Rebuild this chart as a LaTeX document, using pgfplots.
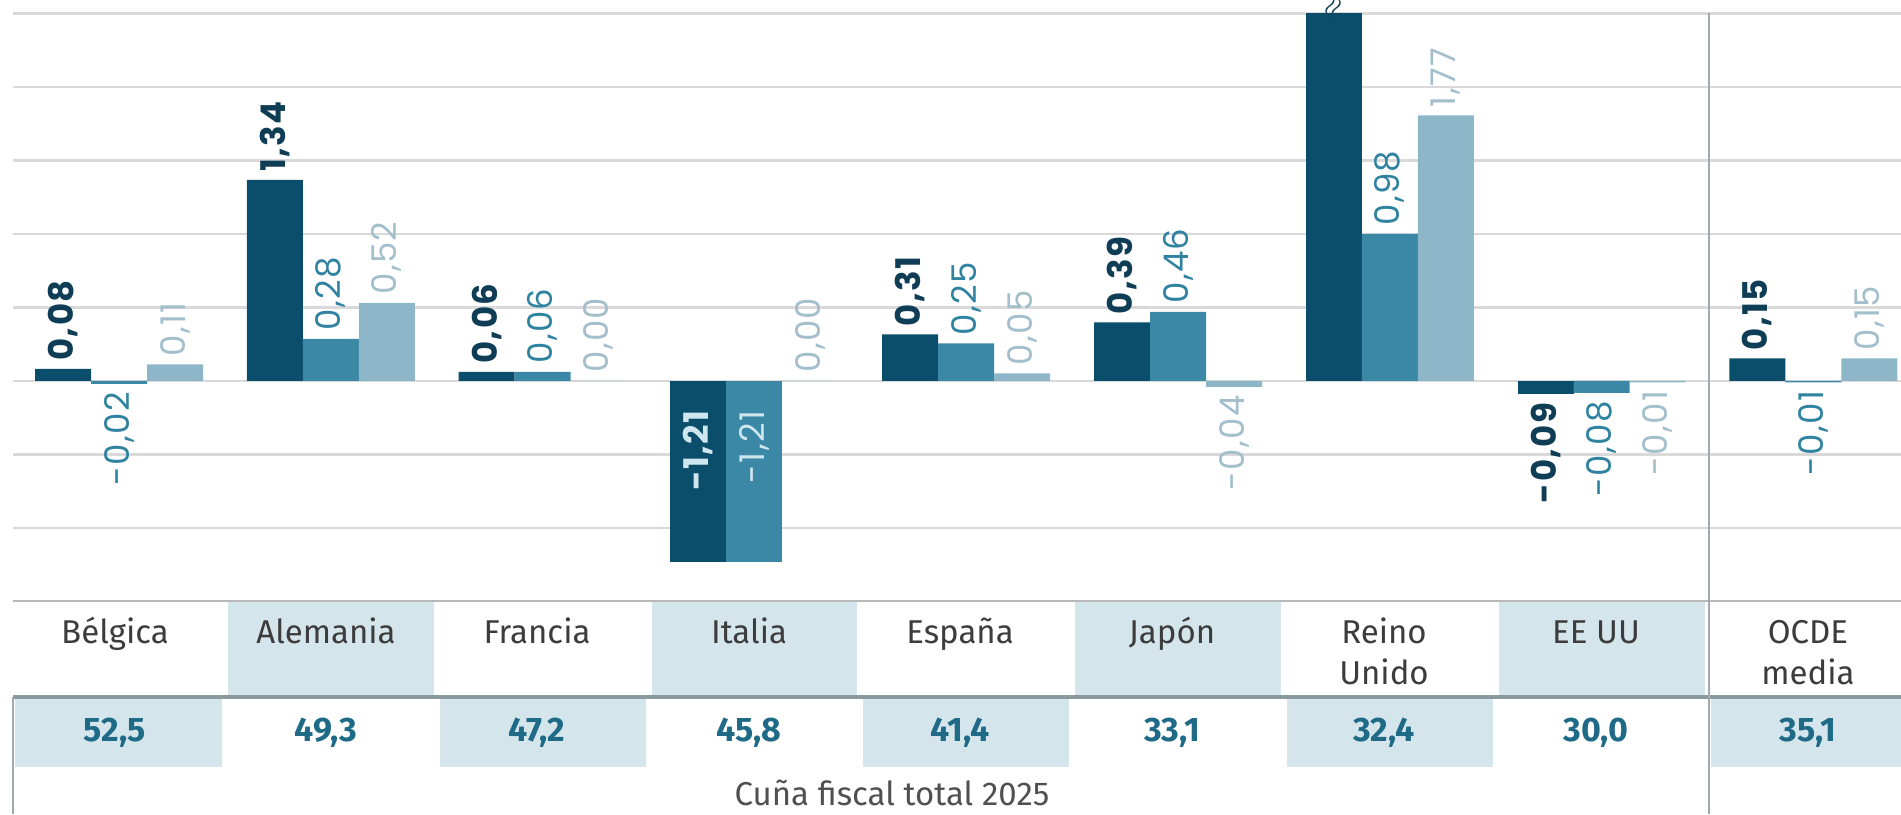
\documentclass[border=0pt]{standalone}
\usepackage{pgfplots}
\pgfplotsset{compat=1.18}
\usepackage{fontspec}
\setmainfont{Fira Sans}
\newfontfamily\labfont[LetterSpace=4]{Poppins}

\definecolor{barA}{HTML}{0B4E6C}
\definecolor{barB}{HTML}{3A88A6}
\definecolor{barC}{HTML}{8DB6C9}
\definecolor{labA}{HTML}{0E3D55}
\definecolor{labB}{HTML}{2F82A0}
\definecolor{labC}{HTML}{A3BFCC}
\definecolor{labIn}{HTML}{CFE6EF}
\definecolor{cellc}{HTML}{D5E5EC}
\definecolor{gridc}{HTML}{D9D9D9}
\definecolor{rulec}{HTML}{8A999F}
\definecolor{vlinec}{HTML}{A0AAAE}
\definecolor{numc}{HTML}{1E6A87}
\definecolor{txtc}{HTML}{3C3C3C}

\pgfplotsset{
  bw/.style={ybar, bar width=0.2644, bar shift=0, draw=none},
  lab/.style={nodes near coords, point meta=explicit symbolic,
    every node near coord/.append style={rotate=90, anchor=#1, inner sep=4pt}},
  sA/.style={every node near coord/.append style={font=\labfont\bfseries\fontsize{17}{17}\selectfont, color=labA}},
  sB/.style={every node near coord/.append style={font=\labfont\fontsize{17}{17}\selectfont, color=labB}},
  sC/.style={every node near coord/.append style={font=\labfont\fontsize{17}{17}\selectfont, color=labC}},
  sIn/.style={every node near coord/.append style={xshift=80pt, color=labIn}},
}

\begin{document}
\begin{tikzpicture}
\useasboundingbox (0,0) rectangle (950.5pt,407pt);
\clip (0,0) rectangle (950.5pt,407pt);

\begin{axis}[
  at={(6.5pt,106.25pt)}, anchor=south west,
  scale only axis, width=944pt, height=294pt,
  xmin=-0.5005, xmax=8.4136, ymin=-1.47, ymax=2.45,
  clip=false,
  axis line style={draw=none}, tick style={draw=none},
  xtick=\empty,
  ytick={-0.98,-0.49,0,0.49,0.98,1.47,1.96,2.45}, yticklabels={},
  ymajorgrids, grid style={line width=1.4pt, color=gridc},
]
% serie oscura (x = grupo - 0.2644)
\addplot[bw, fill=barA, lab=west, sA] coordinates
  {(-0.2644,0.08)[0,08] (0.7356,1.34)[1,34] (1.7356,0.06)[0,06] (3.7356,0.31)[0,31] (4.7356,0.39)[0,39] (7.7356,0.15)[0,15]};
\addplot[bw, fill=barA, lab=east, sA] coordinates
  {(6.7356,-0.09)[-0,09]};
\addplot[bw, fill=barA, lab=east, sA, sIn] coordinates
  {(2.7356,-1.21)[-1,21]};
% Reino Unido: barra cortada arriba
\addplot[bw, fill=barA] coordinates {(5.7356,2.45)};
% serie media (x = grupo)
\addplot[bw, fill=barB, lab=west, sB] coordinates
  {(1,0.28)[0,28] (2,0.06)[0,06] (4,0.25)[0,25] (5,0.46)[0,46] (6,0.98)[0,98]};
\addplot[bw, fill=barB, lab=east, sB] coordinates
  {(0,-0.02)[-0,02] (7,-0.08)[-0,08] (8,-0.01)[-0,01]};
\addplot[bw, fill=barB, lab=east, sB, sIn] coordinates
  {(3,-1.21)[-1,21]};
% serie clara (x = grupo + 0.2644)
\addplot[bw, fill=barC, lab=west, sC] coordinates
  {(0.2644,0.11)[0,11] (1.2644,0.52)[0,52] (2.2644,0)[0,00] (3.2644,0)[0,00] (4.2644,0.05)[0,05] (6.2644,1.77)[1,77] (8.2644,0.15)[0,15]};
\addplot[bw, fill=barC, lab=east, sC] coordinates
  {(5.2644,-0.04)[-0,04] (7.2644,-0.01)[-0,01]};
\node[rotate=70, text=labA, font=\bfseries\Large] at (axis cs:5.7356,2.49) {$\approx$};
\end{axis}

\begin{scope}[x=0.5pt,y=0.5pt]
% tabla
\foreach \l/\r in {227.9/433.7, 651.5/857.3, 1075.1/1280.9, 1498.7/1704.5}
  \fill[cellc] (\l,117) rectangle (\r,213);
\foreach \l/\r in {15/221.9, 439.7/645.5, 863.3/1069.1, 1286.9/1492.7, 1710.5/1901}
  \fill[cellc] (\l,47) rectangle (\r,117);
\draw[line width=1.4pt, color=gridc!85!black] (13,213) -- (1901,213);
\draw[line width=2pt, color=rulec] (13,117) -- (1901,117);
\draw[line width=1.2pt, color=vlinec] (13,0) -- (13,117);
\draw[line width=1.2pt, color=vlinec] (1709,0) -- (1709,800.5);

\foreach \x/\t in {115/Bélgica, 326/Alemania, 537/Francia, 749/Italia,
  960/España, 1172/Japón, 1384/Reino, 1596/EE UU, 1808/OCDE}
  \node[anchor=base, text=txtc, font=\fontsize{16.5}{19}\selectfont] at (\x,170) {\t};
\node[anchor=base, text=txtc, font=\fontsize{16.5}{19}\selectfont] at (1384,129) {Unido};
\node[anchor=base, text=txtc, font=\fontsize{16.5}{19}\selectfont] at (1808,129) {media};

\foreach \x/\t in {115/{52,5}, 326/{49,3}, 537/{47,2}, 749/{45,8},
  960/{41,4}, 1172/{33,1}, 1384/{32,4}, 1596/{30,0}, 1808/{35,1}}
  \node[anchor=base, text=numc, font=\bfseries\fontsize{17}{19}\selectfont] at (\x,72) {\t};
\node[anchor=base, text=txtc!90!white, font=\fontsize{16.5}{19}\selectfont] at (892,9) {Cuña fiscal total 2025};
\end{scope}
\end{tikzpicture}
\end{document}
